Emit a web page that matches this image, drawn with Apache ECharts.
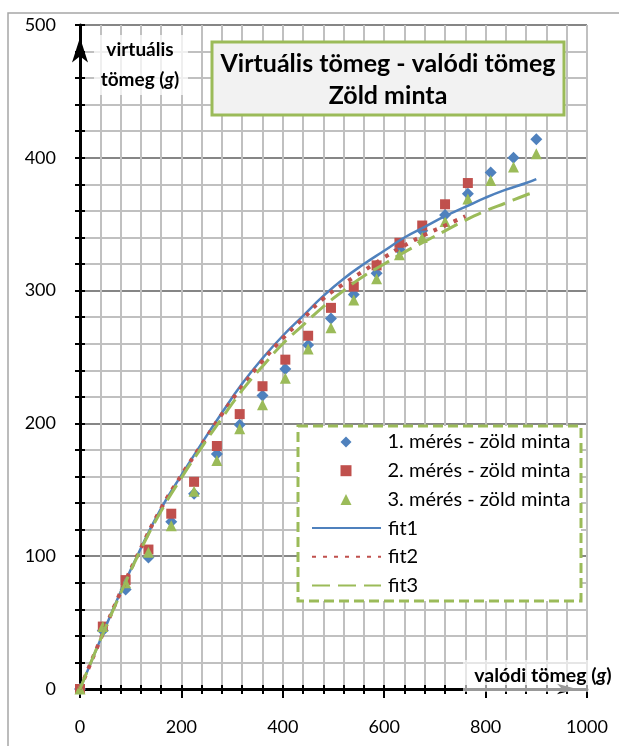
<!DOCTYPE html>
<html lang="hu">
<head>
    <meta charset="UTF-8">
    <title>Virtuális tömeg - valódi tömeg</title>
    <script src="https://cdn.jsdelivr.net/npm/echarts/dist/echarts.min.js"></script>
    <style>
        html, body { margin: 0; padding: 0; background: #fff; }
        #chart { width: 619px; height: 746px; }
    </style>
</head>
<body>
<div id="chart"></div>
<script type="text/javascript">
    // mért pontok (valódi tömeg, g)
    var xVals = [0, 45, 90, 135, 180, 225, 270, 315, 360, 405, 450, 495, 540, 585, 630, 675, 720, 765, 810, 855, 900];
    var mer1 = [0, 44, 75, 99, 126, 147, 177, 199, 221, 241, 259, 279, 297, 313, 331, 345, 357, 373, 389, 400, 414];
    var mer2 = [0, 47, 82, 105, 132, 156, 183, 207, 228, 248, 266, 287, 303, 319, 336, 349, 365, 381];
    var mer3 = [0, 47, 80, 103, 123, 149, 172, 196, 214, 234, 256, 272, 293, 309, 327, 340, 352, 369, 383, 393, 403];

    // illesztett görbék, leolvasva
    var fit1X = [0, 40, 80, 120, 160, 200, 240, 280, 320, 360, 400, 440, 480, 520, 560, 600, 640, 680, 720, 760, 800, 840, 880, 900];
    var fit1Y = [0, 37, 73, 106, 136, 161, 185, 208, 230, 249, 266, 281, 296, 309, 320, 330, 340, 348, 356, 363, 370, 376, 381, 384];
    var fit2X = [0, 40, 80, 120, 160, 200, 240, 280, 320, 360, 400, 440, 480, 520, 560, 600, 640, 680, 720, 760];
    var fit2Y = [0, 37, 73, 106, 136, 161, 184, 207, 228, 247, 264, 279, 294, 305, 315, 325, 334, 342, 349, 356];
    var fit3X = [0, 40, 80, 120, 160, 200, 240, 280, 320, 360, 400, 440, 480, 520, 560, 600, 640, 680, 720, 760, 800, 840, 880, 888];
    var fit3Y = [0, 37, 72, 105, 134, 159, 182, 204, 225, 243, 260, 274, 288, 300, 311, 320, 329, 337, 345, 353, 360, 366, 372, 373];

    var names = ['1. mérés - zöld minta', '2. mérés - zöld minta', '3. mérés - zöld minta', 'fit1', 'fit2', 'fit3'];

    function pairs(xs, ys) {
        var out = [];
        for (var i = 0; i < ys.length; i++) out.push([xs[i], ys[i]]);
        return out;
    }

    var FONT = 'Lato, "Open Sans", sans-serif';
    var BLUE = '#4F81BD', RED = '#C0504D', GREEN = '#9BBB59';
    var ROW = 28.7;

    var chart = echarts.init(document.getElementById('chart'));

    var option = {
        backgroundColor: '#fff',
        animation: false,
        textStyle: { fontFamily: FONT },
        grid: { left: 80, top: 25, right: 32, bottom: 57 },
        legend: [{
            // pontok: kis jel, szöveg eltolva
            data: names.slice(0, 3),
            orient: 'vertical',
            left: 340.5,
            top: 432,
            padding: 0,
            itemWidth: 11,
            itemHeight: 11,
            itemGap: ROW - 20,
            textStyle: { fontSize: 20, color: '#000', lineHeight: 20, fontFamily: FONT, padding: [0, 0, 0, 31] }
        }, {
            // illesztések: vonal
            data: names.slice(3),
            orient: 'vertical',
            left: 311,
            top: 432 + 3 * ROW,
            padding: 0,
            itemWidth: 69,
            itemHeight: 11,
            itemGap: ROW - 20,
            textStyle: { fontSize: 20, color: '#000', lineHeight: 20, fontFamily: FONT, padding: [0, 0, 0, 2] }
        }],
        xAxis: [{
            type: 'value', min: 0, max: 1000, interval: 200, position: 'bottom',
            axisLine: { onZero: false, lineStyle: { color: '#000', width: 3 }, symbol: ['none', 'arrow'], symbolSize: [8, 20], symbolOffset: [0, -10] },
            axisTick: { length: 9, lineStyle: { color: '#000', width: 2 } },
            minorTick: { show: true, splitNumber: 5, length: 5, lineStyle: { color: '#000', width: 2 } },
            axisLabel: { margin: 29, fontSize: 18, color: '#000', fontFamily: FONT, formatter: function (v) { return String(v); } },
            splitLine: { lineStyle: { color: '#c0c0c0', width: 2 } },
            minorSplitLine: { show: true, lineStyle: { color: '#c0c0c0', width: 2 } }
        }, {
            type: 'value', min: 0, max: 1000, interval: 200, position: 'bottom',
            axisLine: { show: false, onZero: false },
            axisTick: { inside: true, length: 4, lineStyle: { color: '#000', width: 2 } },
            minorTick: { show: true, splitNumber: 5, length: 4, lineStyle: { color: '#000', width: 2 } },
            axisLabel: { show: false },
            splitLine: { show: false }
        }],
        yAxis: [{
            type: 'value', min: 0, max: 500, interval: 100, position: 'left',
            axisLine: { show: true, onZero: false, lineStyle: { color: '#000', width: 3 }, symbol: ['none', 'arrow'], symbolSize: [12, 25], symbolOffset: [0, -12.5] },
            axisTick: { show: true, length: 5, lineStyle: { color: '#000', width: 2 } },
            minorTick: { show: true, splitNumber: 5, length: 5, lineStyle: { color: '#000', width: 2 } },
            axisLabel: { margin: 24, fontSize: 18, color: '#000', fontFamily: FONT, formatter: function (v) { return String(v); } },
            splitLine: { lineStyle: { color: '#868686', width: 2 } },
            minorSplitLine: { show: true, lineStyle: { color: '#c0c0c0', width: 2 } }
        }, {
            type: 'value', min: 0, max: 500, interval: 100, position: 'left',
            axisLine: { show: false, onZero: false },
            axisTick: { show: true, inside: true, length: 5, lineStyle: { color: '#000', width: 2 } },
            minorTick: { show: true, splitNumber: 5, length: 5, lineStyle: { color: '#000', width: 2 } },
            axisLabel: { show: false },
            splitLine: { show: false }
        }],
        series: [
            { name: names[0], type: 'scatter', symbol: 'diamond', symbolSize: 12, itemStyle: { color: BLUE, opacity: 1 }, data: pairs(xVals, mer1), z: 3 },
            { name: names[1], type: 'scatter', symbol: 'rect', symbolSize: 10, itemStyle: { color: RED, opacity: 1 }, data: pairs(xVals, mer2), z: 3 },
            { name: names[2], type: 'scatter', symbol: 'triangle', symbolSize: 11, itemStyle: { color: GREEN, opacity: 1 }, data: pairs(xVals, mer3), z: 3 },
            // itemStyle opacity 0: a jelmagyarázatban csak a vonal látszik
            { name: names[3], type: 'line', smooth: true, showSymbol: false, symbol: 'none', itemStyle: { color: BLUE, opacity: 0 },
              lineStyle: { color: BLUE, width: 2.5 }, data: pairs(fit1X, fit1Y), z: 4 },
            { name: names[4], type: 'line', smooth: true, showSymbol: false, symbol: 'none', itemStyle: { color: RED, opacity: 0 },
              lineStyle: { color: RED, width: 4, type: [4, 7], cap: 'butt' }, data: pairs(fit2X, fit2Y), z: 4 },
            { name: names[5], type: 'line', smooth: true, showSymbol: false, symbol: 'none', itemStyle: { color: GREEN, opacity: 0 },
              lineStyle: { color: GREEN, width: 3, type: [18, 8] }, data: pairs(fit3X, fit3Y), z: 4 }
        ],
        graphic: [
            // külső keret
            { type: 'rect', z: 1, silent: true, shape: { x: 8, y: 13, width: 640, height: 760 },
              style: { fill: 'none', stroke: '#a6a6a6', lineWidth: 1.5 } },
            // jelmagyarázat kerete
            { type: 'rect', z: 3, silent: true, shape: { x: 298, y: 426, width: 283, height: 175 },
              style: { fill: '#fff', stroke: GREEN, lineWidth: 3, lineDash: [10, 5] } },
            // cím
            { type: 'rect', z: 10, silent: true, shape: { x: 212, y: 42, width: 352, height: 73 },
              style: { fill: '#f2f2f2', stroke: GREEN, lineWidth: 3 } },
            { type: 'text', z: 11, silent: true, x: 388, y: 64,
              style: { text: 'Virtuális tömeg - valódi tömeg', fontSize: 25, fontWeight: 'bold', fontFamily: FONT, fill: '#000', align: 'center', verticalAlign: 'middle' } },
            { type: 'text', z: 11, silent: true, x: 388, y: 96,
              style: { text: 'Zöld minta', fontSize: 25, fontWeight: 'bold', fontFamily: FONT, fill: '#000', align: 'center', verticalAlign: 'middle' } },
            // y tengely neve
            { type: 'rect', z: 10, silent: true, shape: { x: 94, y: 35, width: 94, height: 60 },
              style: { fill: 'rgba(255,255,255,0.75)' } },
            { type: 'text', z: 11, silent: true, x: 140, y: 50,
              style: { text: 'virtuális', fontSize: 19, fontWeight: 'bold', fontFamily: FONT, fill: '#000', align: 'center', verticalAlign: 'middle' } },
            { type: 'text', z: 11, silent: true, x: 140, y: 80,
              style: { text: 'tömeg ({i|g})', fontSize: 19, fontWeight: 'bold', fontFamily: FONT, fill: '#000', align: 'center', verticalAlign: 'middle',
                       rich: { i: { fontSize: 19, fontWeight: 'bold', fontStyle: 'italic', fontFamily: FONT, fill: '#000' } } } },
            // x tengely neve
            { type: 'rect', z: 10, silent: true, shape: { x: 463, y: 660, width: 156, height: 32 },
              style: { fill: 'rgba(255,255,255,0.6)' } },
            { type: 'text', z: 11, silent: true, x: 543, y: 676,
              style: { text: 'valódi tömeg ({i|g})', fontSize: 19.5, fontWeight: 'bold', fontFamily: FONT, fill: '#000', align: 'center', verticalAlign: 'middle',
                       rich: { i: { fontSize: 19.5, fontWeight: 'bold', fontStyle: 'italic', fontFamily: FONT, fill: '#000' } } } }
        ]
    };

    chart.setOption(option);
</script>
</body>
</html>
